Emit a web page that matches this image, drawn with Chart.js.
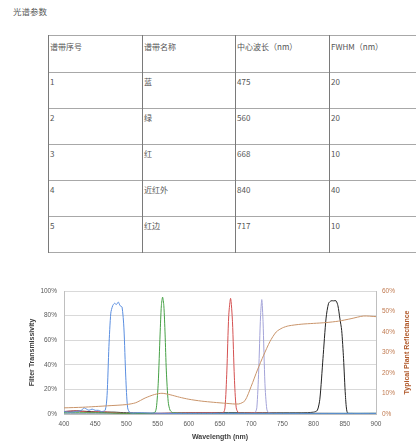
<!DOCTYPE html>
<html>
<head>
<meta charset="utf-8">
<script src="https://cdn.jsdelivr.net/npm/chart.js@4"></script>
<style>
  html, body { margin:0; padding:0; width:416px; height:444px; overflow:hidden; background:#fff; position:relative; }
  #cap { position:absolute; left:13px; top:5px; font: 8.5px "Noto Sans CJK SC", sans-serif; color:#555; line-height:12px; }
  .hl { position:absolute; height:1px; background:#a8a8a8; }
  .vl { position:absolute; width:1px; background:#7a7a7a; }
  .cell { position:absolute; font: 8px "Noto Sans CJK SC", sans-serif; color:#555; line-height:10px; white-space:nowrap; }
  #wrap { position:absolute; left:0; top:280px; width:416px; height:164px; }
</style>
</head>
<body>
<div id="cap">光谱参数</div>
<div id="tbl"></div>
<div id="wrap"><canvas id="c" width="416" height="164"></canvas></div>
<script>
// ---- table data ----
const headers = ["谱带序号", "谱带名称", "中心波长（nm）", "FWHM（nm）"];
const bandNo = ["1", "2", "3", "4", "5"];
const bandName = ["蓝", "绿", "红", "近红外", "红边"];
const centerWl = ["475", "560", "668", "840", "717"];
const fwhm = ["20", "20", "10", "40", "10"];

// ---- chart data ----
const xTicks = [400, 450, 500, 550, 600, 650, 700, 750, 800, 850, 900];
const blueX = [400,410,420,428,432,436,440,445,450,455,460,466,469,472,475,478,481,484,487,490,493,496,499,502,506,520,560,620,700,800,900];
const blueY = [2,1.5,2,3,5,4,3,4,3,3,2,3,15,55,82,88,90,89,91,88,87,70,30,5,1,1,0.5,0.5,0.5,0.5,0.5];
const greenX = [400,450,500,530,545,548,551,554,556,558,560,562,564,567,570,575,600,700,800,900];
const greenY = [1,1,0.5,0.5,1,5,25,65,88,95,88,65,35,10,3,1,0.5,0.5,0.5,0.5];
const redX = [400,420,440,460,480,500,550,600,640,655,658,661,664,667,670,673,676,680,700,750,800,900];
const redY = [2,2.5,1.5,2,1,0.5,0.5,1,1,1,5,35,80,94,75,30,5,1,1,0.5,0.5,0.3];
const edgeX = [400,500,600,700,706,709,712,715,717,719,722,725,728,740,800,900];
const edgeY = [0.5,0.5,0.5,0.5,1,5,35,80,93,75,25,4,1,0.5,0.5,0.5];
const nirX = [400,420,440,460,480,500,550,600,700,780,800,806,810,815,820,824,828,832,836,839,842,845,848,851,854,860,900];
const nirY = [2,2.5,2,1.5,1.5,1,0.5,1,1,1,1.5,3,12,45,78,90,92,92,92,88,78,68,45,15,1,0.5,0.5];
const reflX = [400,430,470,500,515,530,545,557,570,585,600,620,640,660,680,690,700,710,720,730,740,750,760,780,800,820,840,860,880,900];
const reflY = [3,3.3,4,4.6,5.5,7.8,9.5,10.1,9.4,8.2,7.2,6.3,5.7,5.2,4.9,6.5,13.5,21.5,28.7,35.3,40,42,43,43.8,44.2,44.6,45.3,46.5,47.8,47.5];

// ---- build table (grid of lines + text) ----
const tbl = document.getElementById('tbl');
const rowTops = [35, 72, 108, 144, 180, 216, 252];
const colLefts = [48, 142, 235, 329, 423];
function el(cls, css, text) {
  const d = document.createElement('div');
  d.className = cls;
  Object.assign(d.style, css);
  if (text !== undefined) d.textContent = text;
  tbl.appendChild(d);
}
rowTops.forEach(y => el('hl', { left: colLefts[0] + 'px', top: y + 'px', width: (colLefts[4] - colLefts[0]) + 'px' }));
colLefts.forEach(x => el('vl', { left: x + 'px', top: rowTops[0] + 'px', height: (rowTops[6] - rowTops[0] + 1) + 'px' }));
const rows = [headers].concat(bandNo.map((n, i) => [n, bandName[i], centerWl[i], fwhm[i]]));
rows.forEach((r, ri) => {
  r.forEach((t, ci) => {
    const dy = ri === 0 ? 7 : 5;
    el('cell', { left: (colLefts[ci] + 2) + 'px', top: (rowTops[ri] + dy) + 'px' }, t);
  });
});

const pts = (xs, ys) => xs.map((x, i) => ({ x: x, y: ys[i] }));
const ds = (label, xs, ys, color, axis) => ({
  label, data: pts(xs, ys), borderColor: color, borderWidth: 1, pointRadius: 0,
  tension: 0.25, fill: false, yAxisID: axis || 'y'
});

const tickFont = { family: "'Liberation Sans', sans-serif", size: 6.5 };
const titleFont = { family: "'Liberation Sans', sans-serif", size: 7, weight: 'bold' };

const rightTitle = {
  id: 'rightTitle',
  afterDraw(chart) {
    const s = chart.scales.y2;
    const ctx = chart.ctx;
    ctx.save();
    ctx.translate(s.right - 9, (s.top + s.bottom) / 2);
    ctx.rotate(-Math.PI / 2);
    ctx.font = "bold 7px 'Liberation Sans', sans-serif";
    ctx.fillStyle = '#b0582a';
    ctx.textAlign = 'center';
    ctx.textBaseline = 'middle';
    ctx.fillText('Typical Plant Reflectance', 0, 0);
    ctx.restore();
  }
};

new Chart(document.getElementById('c'), {
  type: 'line',
  data: {
    datasets: [
      ds('Reflectance', reflX, reflY, '#c9946a', 'y2'),
      ds('Blue', blueX, blueY, '#5a8ee0'),
      ds('Green', greenX, greenY, '#45a045'),
      ds('Red', redX, redY, '#d45050'),
      ds('Red Edge', edgeX, edgeY, '#a3a3d8'),
      ds('NIR', nirX, nirY, '#222222')
    ]
  },
  plugins: [rightTitle],
  options: {
    responsive: false,
    animation: false,
    layout: { padding: { top: 11, left: 0, right: 0, bottom: 0 } },
    plugins: { legend: { display: false }, tooltip: { enabled: false } },
    scales: {
      x: {
        type: 'linear', min: 400, max: 900,
        afterBuildTicks: s => { s.ticks = xTicks.map(v => ({ value: v })); },
        grid: { display: false, drawTicks: false },
        border: { display: true, color: '#bfbfbf' },
        ticks: { font: tickFont, color: '#595959', padding: 6, maxRotation: 0 },
        title: { display: true, text: 'Wavelength (nm)', font: titleFont, color: '#404040', padding: { top: 0, bottom: 3 } },
        afterFit: s => { s.height = 30; }
      },
      y: {
        position: 'left', min: 0, max: 100,
        ticks: { stepSize: 20, font: tickFont, color: '#595959', padding: 7, callback: v => v + '%' },
        grid: { color: '#d9d9d9', drawTicks: false },
        border: { display: true, color: '#bfbfbf' },
        title: { display: true, text: 'Filter Transmissivity', font: titleFont, color: '#404040', padding: { top: 28, bottom: 0 } },
        afterFit: s => { s.width = 64; }
      },
      y2: {
        position: 'right', min: 0, max: 60,
        ticks: { stepSize: 10, font: tickFont, color: '#c07a50', padding: 6, callback: v => v + '%' },
        grid: { display: false, drawTicks: false },
        border: { display: true, color: '#bfbfbf' },
        afterFit: s => { s.width = 40; }
      }
    }
  }
});
</script>
</body>
</html>
